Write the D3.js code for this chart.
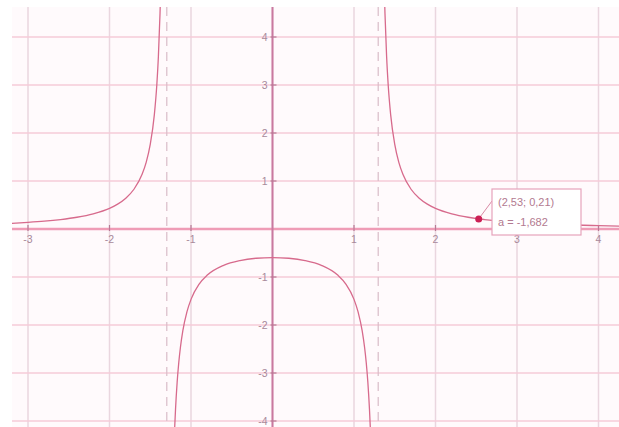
<!DOCTYPE html>
<html>
<head>
<meta charset="utf-8">
<script src="https://cdn.jsdelivr.net/npm/d3@7"></script>
<style>
  body { margin: 0; background: #fff; }
  svg { display: block; font-family: "Liberation Sans", Arial, sans-serif; }
</style>
</head>
<body>
<svg id="plot" width="619" height="427"></svg>
<script>
// tick values and labels
var xTicks = [-3, -2, -1, 1, 2, 3, 4]
var xLabels = ['-3', '-2', '-1', '1', '2', '3', '4']
var yTicks = [-4, -3, -2, -1, 1, 2, 3, 4]
var yLabels = ['-4', '-3', '-2', '-1', '1', '2', '3', '4']
var xGrid = [-3, -2, -1, 0, 1, 2, 3, 4]
var yGrid = [-4, -3, -2, -1, 0, 1, 2, 3, 4]

// curve, three branches
var leftX  = [-3.2, -3.0, -2.8, -2.6, -2.4, -2.2, -2.0, -1.9, -1.8, -1.7, -1.6, -1.55, -1.5, -1.45, -1.42, -1.4, -1.38, -1.375]
var leftY  = [0.117, 0.137, 0.162, 0.197, 0.245, 0.317, 0.431, 0.519, 0.642, 0.828, 1.139, 1.388, 1.761, 2.378, 2.99, 3.597, 4.496, 4.79]
var midX   = [-1.21, -1.2, -1.19, -1.17, -1.15, -1.13, -1.1, -1.05, -1.0, -0.9, -0.8, -0.6, -0.4, -0.2, 0, 0.2, 0.4, 0.6, 0.8, 0.9, 1.0, 1.05, 1.1, 1.13, 1.15, 1.17, 1.19, 1.2, 1.21]
var midY   = [-4.589, -4.132, -3.761, -3.194, -2.782, -2.469, -2.119, -1.726, -1.466, -1.147, -0.96, -0.756, -0.657, -0.609, -0.595, -0.609, -0.657, -0.756, -0.96, -1.147, -1.466, -1.726, -2.119, -2.469, -2.782, -3.194, -3.761, -4.132, -4.589]
var rightX = [1.375, 1.38, 1.4, 1.42, 1.45, 1.5, 1.55, 1.6, 1.7, 1.8, 1.9, 2.0, 2.2, 2.4, 2.53, 2.6, 2.8, 3.0, 3.2, 3.6, 4.0, 4.3]
var rightY = [4.79, 4.496, 3.597, 2.99, 2.378, 1.761, 1.388, 1.139, 0.828, 0.642, 0.519, 0.431, 0.317, 0.245, 0.212, 0.197, 0.162, 0.137, 0.117, 0.089, 0.07, 0.059]

var asymptotes = [-1.297, 1.297]
var pointX = 2.53, pointY = 0.21
var labelLines = ['(2,53; 0,21)', 'a = -1,682']

var svg = d3.select('#plot')
var area = { x0: 12, y0: 7, x1: 619, y1: 427 }

var x = d3.scaleLinear().domain([-3, 4]).range([28, 598.5])
var y = d3.scaleLinear().domain([-4, 4]).range([421, 37])

svg.append('clipPath').attr('id', 'clip')
  .append('rect')
  .attr('x', area.x0).attr('y', area.y0)
  .attr('width', area.x1 - area.x0).attr('height', area.y1 - area.y0)

var g = svg.append('g').attr('clip-path', 'url(#clip)')

// plot background
g.append('rect')
  .attr('x', area.x0).attr('y', area.y0)
  .attr('width', area.x1 - area.x0).attr('height', area.y1 - area.y0)
  .attr('fill', '#fffafc')

// grid
g.selectAll('.vgrid').data(xGrid).enter().append('line')
  .attr('x1', d => x(d)).attr('x2', d => x(d))
  .attr('y1', area.y0).attr('y2', area.y1)
  .attr('stroke', '#ead6df').attr('stroke-width', 1.5)

g.selectAll('.hgrid').data(yGrid).enter().append('line')
  .attr('y1', d => y(d)).attr('y2', d => y(d))
  .attr('x1', area.x0).attr('x2', area.x1)
  .attr('stroke', '#f6cbd9').attr('stroke-width', 1.5)

// asymptotes
g.selectAll('.asym').data(asymptotes).enter().append('line')
  .attr('x1', d => x(d)).attr('x2', d => x(d))
  .attr('y1', area.y0).attr('y2', area.y1)
  .attr('stroke', '#d9bcc8').attr('stroke-width', 1.2)
  .attr('stroke-dasharray', '9,6')

// axes
g.append('line')
  .attr('x1', area.x0).attr('x2', area.x1)
  .attr('y1', y(0)).attr('y2', y(0))
  .attr('stroke', '#ef9cb6').attr('stroke-width', 2.5)

g.append('line')
  .attr('x1', x(0)).attr('x2', x(0))
  .attr('y1', area.y0).attr('y2', area.y1)
  .attr('stroke', '#c9799f').attr('stroke-width', 2)

// ticks
g.selectAll('.xtick').data(xTicks).enter().append('line')
  .attr('x1', d => x(d)).attr('x2', d => x(d))
  .attr('y1', y(0) - 4).attr('y2', y(0) + 2)
  .attr('stroke', '#b87a95').attr('stroke-width', 1.2)

g.selectAll('.ytick').data(yTicks).enter().append('line')
  .attr('y1', d => y(d)).attr('y2', d => y(d))
  .attr('x1', x(0) - 2).attr('x2', x(0) + 4)
  .attr('stroke', '#b87a95').attr('stroke-width', 1.2)

// tick labels
g.selectAll('.xlab').data(xTicks).enter().append('text')
  .attr('x', d => x(d)).attr('y', y(0) + 14)
  .attr('text-anchor', 'middle')
  .attr('font-size', 10.5).attr('fill', '#a8899a')
  .text((d, i) => xLabels[i])

g.selectAll('.ylab').data(yTicks).enter().append('text')
  .attr('x', x(0) - 5).attr('y', d => y(d) + 4)
  .attr('text-anchor', 'end')
  .attr('font-size', 10.5).attr('fill', '#a8899a')
  .text((d, i) => yLabels[i])

// curve
var line = d3.line()
  .x(d => x(d[0])).y(d => y(d[1]))
  .curve(d3.curveMonotoneX)

var branches = [
  d3.zip(leftX, leftY),
  d3.zip(midX, midY),
  d3.zip(rightX, rightY)
]

g.selectAll('.branch').data(branches).enter().append('path')
  .attr('d', line)
  .attr('fill', 'none')
  .attr('stroke', '#d76a8c').attr('stroke-width', 1.3)

// label box with leader line
var px = x(pointX), py = y(pointY)
var box = { x: 492, y: 189, w: 89, h: 46 }

g.append('line')
  .attr('x1', px).attr('y1', py)
  .attr('x2', box.x).attr('y2', 201)
  .attr('stroke', '#d98aa5').attr('stroke-width', 1)

g.append('rect')
  .attr('x', box.x).attr('y', box.y)
  .attr('width', box.w).attr('height', box.h)
  .attr('fill', '#fff').attr('stroke', '#e6a3bb').attr('stroke-width', 1.2)

g.selectAll('.lbl').data(labelLines).enter().append('text')
  .attr('x', box.x + 6).attr('y', (d, i) => box.y + 17 + i * 20)
  .attr('font-size', 11).attr('fill', '#b27a90')
  .text(d => d)

g.append('circle')
  .attr('cx', px).attr('cy', py).attr('r', 3.5)
  .attr('fill', '#cc1f55')
</script>
</body>
</html>
